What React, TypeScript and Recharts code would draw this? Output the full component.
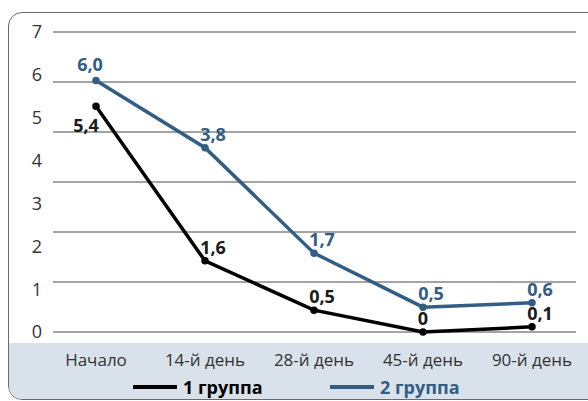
import { LineChart, Line, XAxis, YAxis, CartesianGrid, LabelList } from 'recharts'

// categories + values
const periods = ['Начало', '14-й день', '28-й день', '45-й день', '90-й день']
const group1 = [5.27, 1.66, 0.51, 0, 0.12]
const group2 = [5.87, 4.3, 1.84, 0.58, 0.68]
const group1Labels = ['5,4', '1,6', '0,5', '0', '0,1']
const group2Labels = ['6,0', '3,8', '1,7', '0,5', '0,6']
const yTicks = [0, 1, 2, 3, 4, 5, 6, 7]
// the grid in the original is drawn in 6 steps over the same height
const gridSteps = [0, 1, 2, 3, 4, 5, 6]

const BLUE = '#325d84'
const FONT = '"Open Sans", sans-serif'

const data = periods.map((p, i) => ({
  period: p,
  g1: group1[i],
  g2: group2[i],
  l1: group1Labels[i],
  l2: group2Labels[i],
}))

function makeLabel(color: string, series: 1 | 2) {
  return (props: any) => {
    const { x, y, value, index } = props
    let dx = 8
    let dy = -7
    if (index === 0) {
      dx = series === 2 ? -6 : -10
      dy = series === 2 ? -9 : 26
    }
    if (value === '0') dx = 0
    return (
      <text
        x={Number(x) + dx}
        y={Number(y) + dy}
        textAnchor="middle"
        fill={color}
        fontFamily={FONT}
        fontWeight={700}
        fontSize={18}
      >
        {value}
      </text>
    )
  }
}

function LegendItem({ color, label, width }: { color: string; label: string; width: number }) {
  return (
    <div style={{ display: 'flex', alignItems: 'center', gap: 6, width }}>
      <div style={{ width: 44, height: 4, background: color }} />
      <span style={{ color, fontWeight: 700, fontSize: 18, fontFamily: FONT, lineHeight: '20px' }}>{label}</span>
    </div>
  )
}

export default function App() {
  return (
    <div style={{ position: 'fixed', left: 0, top: 0, width: 588, height: 401, background: '#fff', overflow: 'hidden' }}>
      <div
        style={{
          position: 'absolute', left: 8, top: 12, width: 600, height: 386,
          border: '1.5px solid #6a6a6a', borderRadius: 14, overflow: 'hidden',
        }}
      >
        <div style={{ position: 'absolute', left: 0, right: 0, top: 330, bottom: 0, background: '#d9e2ea' }} />
      </div>
      <div style={{ position: 'absolute', left: 0, top: 0 }}>
        <LineChart width={588} height={401} data={data} margin={{ top: 32, right: 12, bottom: 39, left: 8 }}>
          <CartesianGrid yAxisId="grid" vertical={false} stroke="#4a4a4a" strokeWidth={1.2} />
          <XAxis
            dataKey="period"
            axisLine={false}
            tickLine={false}
            tickSize={0}
            tickMargin={22}
            height={30}
            padding={{ left: 43, right: 44 }}
            interval={0}
            tick={{ fill: '#333', fontSize: 17, fontFamily: FONT }}
          />
          <YAxis
            domain={[0, 7]}
            ticks={yTicks}
            axisLine={false}
            tickLine={false}
            tickSize={0}
            tickMargin={11}
            width={45}
            tick={{ fill: '#333', fontSize: 18, fontFamily: FONT }}
          />
          <YAxis yAxisId="grid" type="number" domain={[0, 6]} ticks={gridSteps} allowDataOverflow hide />
          <Line
            dataKey="g2"
            stroke={BLUE}
            strokeWidth={3.5}
            dot={{ r: 2, fill: BLUE, stroke: BLUE }}
            isAnimationActive={false}
          >
            <LabelList dataKey="l2" content={makeLabel(BLUE, 2)} />
          </Line>
          <Line
            dataKey="g1"
            stroke="#000"
            strokeWidth={3.5}
            dot={{ r: 2, fill: '#000', stroke: '#000' }}
            isAnimationActive={false}
          >
            <LabelList dataKey="l1" content={makeLabel('#1a1a1a', 1)} />
          </Line>
        </LineChart>
      </div>
      <div style={{ position: 'absolute', top: 377, left: 133, display: 'flex' }}>
        <LegendItem color="#000" label="1 группа" width={197} />
        <LegendItem color={BLUE} label="2 группа" width={160} />
      </div>
    </div>
  )
}
